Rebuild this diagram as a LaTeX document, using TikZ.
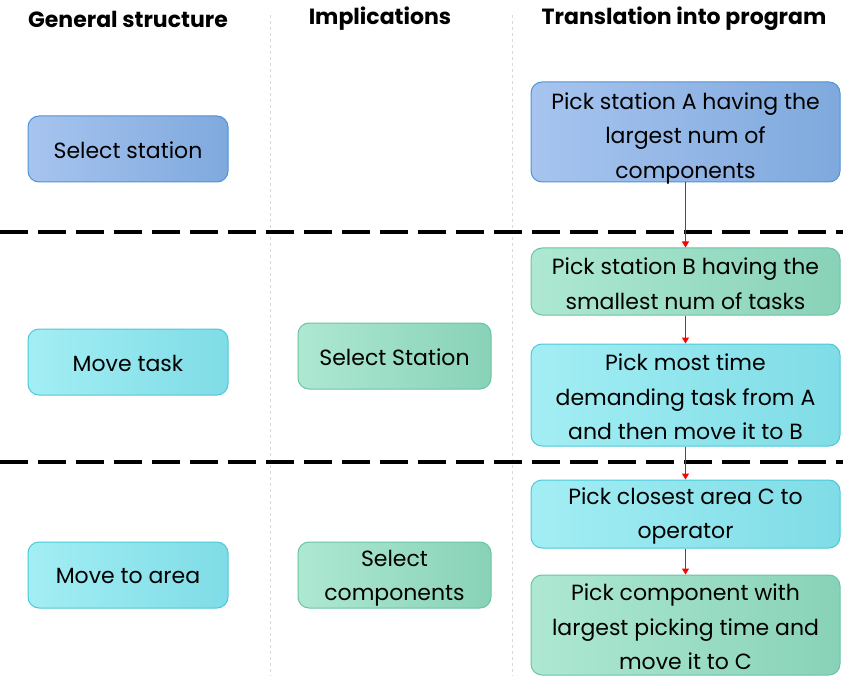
\documentclass[tikz,border=0pt]{standalone}
\usepackage{fontspec}
\setmainfont{Poppins}
\usetikzlibrary{arrows.meta}
\definecolor{bluefillA}{HTML}{A7C4EF}
\definecolor{bluefillB}{HTML}{7FA9DD}
\definecolor{blueline}{HTML}{4F94D4}
\definecolor{cyanfillA}{HTML}{A3EEF4}
\definecolor{cyanfillB}{HTML}{7FDCE6}
\definecolor{cyanline}{HTML}{4CC9D8}
\definecolor{greenfillA}{HTML}{AEE8D2}
\definecolor{greenfillB}{HTML}{88D2B8}
\definecolor{greenline}{HTML}{6BC4A4}
\tikzset{
  box/.style={rounded corners=11pt, line width=1pt, inner sep=0pt},
  bluebox/.style={box, draw=blueline, left color=bluefillA, right color=bluefillB},
  cyanbox/.style={box, draw=cyanline, left color=cyanfillA, right color=cyanfillB},
  greenbox/.style={box, draw=greenline, left color=greenfillA, right color=greenfillB},
  boxtext/.style={align=center, inner sep=0pt, font=\fontsize{22}{34.5}\selectfont},
  header/.style={font=\fontsize{22}{24}\selectfont\bfseries},
  sep/.style={line width=3.5pt, dash pattern=on 28pt off 10pt},
  colsep/.style={line width=0.5pt, draw=black!15, dash pattern=on 3pt off 3pt},
  flow/.style={draw=red, line width=1pt, -{Triangle[width=7pt,length=6pt]}}
}
\begin{document}
\begin{tikzpicture}[x=1pt,y=-1pt]
\useasboundingbox (0,0) rectangle (843,676);
\fill[white] (0,0) rectangle (843,676);
% column separators
\draw[colsep] (270,15) -- (270,676);
\draw[colsep] (512,15) -- (512,676);
% headers
\node[header] (h1) at (128,19) {General structure};
\node[header] (h2) at (380,19) {Implications};
\node[header] (h3) at (684,19) {Translation into program};
% row separators
\draw[sep] (0,232) -- (843,232);
\draw[sep] (0,462) -- (843,462);
% left column
\node[bluebox, minimum width=200pt, minimum height=66pt] (g1) at (128,149) {};
\node[boxtext] (g1t) at ([yshift=-1pt]g1.center) {Select station};
\node[cyanbox, minimum width=200pt, minimum height=66pt] (g2) at (128,362) {};
\node[boxtext] (g2t) at ([yshift=-1pt]g2.center) {Move task};
\node[cyanbox, minimum width=200pt, minimum height=66pt] (g3) at (128,575) {};
\node[boxtext] (g3t) at ([yshift=-1pt]g3.center) {Move to area};
% middle column
\node[greenbox, minimum width=193pt, minimum height=66pt] (i1) at (394.5,356) {};
\node[boxtext] (i1t) at ([yshift=-1pt]i1.center) {Select Station};
\node[greenbox, minimum width=193pt, minimum height=66pt] (i2) at (394.5,575) {};
\node[boxtext] (i2t) at ([yshift=-3pt]i2.center) {Select\\components};
% right column
\node[bluebox, minimum width=309pt, minimum height=100pt] (p1) at (685.5,132) {};
\node[boxtext] (p1t) at ([yshift=-6pt]p1.center) {Pick station A having the\\largest num of\\components};
\node[greenbox, minimum width=309pt, minimum height=67pt] (p2) at (685.5,281.5) {};
\node[boxtext] (p2t) at ([yshift=-2pt]p2.center) {Pick station B having the\\smallest num of tasks};
\node[cyanbox, minimum width=309pt, minimum height=102pt] (p3) at (685.5,395) {};
\node[boxtext] (p3t) at ([yshift=-2pt]p3.center) {Pick most time\\demanding task from A\\and then move it to B};
\node[cyanbox, minimum width=309pt, minimum height=68pt] (p4) at (685.5,514) {};
\node[boxtext] (p4t) at ([yshift=-2pt]p4.center) {Pick closest area C to\\operator};
\node[greenbox, minimum width=309pt, minimum height=100pt] (p5) at (685.5,625) {};
\node[boxtext] (p5t) at ([yshift=-2pt]p5.center) {Pick component with\\largest picking time and\\move it to C};
% flow arrows
\draw[flow] (p1) -- (p2);
\draw[flow] (p2) -- (p3);
\draw[flow] (p3) -- (p4);
\draw[flow] (p4) -- (p5);
\end{tikzpicture}
\end{document}
